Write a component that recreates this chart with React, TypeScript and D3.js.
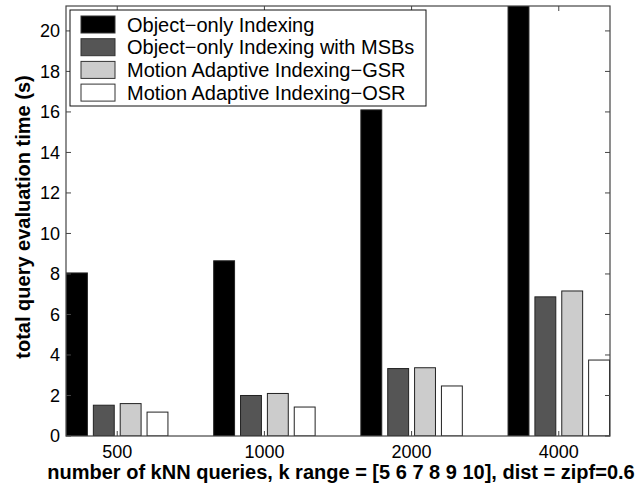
import React from 'react';
import * as d3 from 'd3';

// values (seconds)
const categories = ['500', '1000', '2000', '4000'];
const seriesNames = [
  'Object−only Indexing',
  'Object−only Indexing with MSBs',
  'Motion Adaptive Indexing−GSR',
  'Motion Adaptive Indexing−OSR',
];
const objectOnly = [8.05, 8.65, 16.1, 21.6];
const objectOnlyMSBs = [1.52, 2.0, 3.33, 6.87];
const motionGSR = [1.6, 2.1, 3.37, 7.16];
const motionOSR = [1.18, 1.43, 2.47, 3.75];
const yTicks = [0, 2, 4, 6, 8, 10, 12, 14, 16, 18, 20];

const seriesValues = [objectOnly, objectOnlyMSBs, motionGSR, motionOSR];
const seriesFills = ['#000000', '#555555', '#cccccc', '#ffffff'];

const font = '"Liberation Sans", Arial, Helvetica, sans-serif';

const App = () => {
  const left = 66, right = 610, top = 6, bottom = 436;

  const x0 = d3.scaleBand().domain(categories).range([left, right]).paddingInner(0.304).paddingOuter(0);
  const x1 = d3.scaleBand().domain(seriesNames).range([0, x0.bandwidth()]).paddingInner(0.185);
  const y = d3.scaleLinear().domain([0, 21.23]).range([bottom, top]);

  const tickLen = 5;

  return (
    <svg width={642} height={486} style={{ position: 'absolute', left: 0, top: 0, background: '#fff' }}
      fontFamily={font}>
      <defs>
        <clipPath id="plot-clip">
          <rect x={left} y={top} width={right - left} height={bottom - top} />
        </clipPath>
      </defs>
      <rect x={0} y={0} width={642} height={486} fill="#fff" />

      {/* bars */}
      <g clipPath="url(#plot-clip)">
        {categories.map((c, i) => (
          <g key={c} transform={`translate(${x0(c)},0)`}>
            {seriesNames.map((s, j) => {
              const v = seriesValues[j][i];
              return (
                <rect key={s} x={x1(s)! + 0.5} y={y(v)} width={x1.bandwidth() - 1} height={bottom - y(v)}
                  fill={seriesFills[j]} stroke="#222" strokeWidth={1} />
              );
            })}
          </g>
        ))}
      </g>

      {/* axes box */}
      <rect x={left} y={top} width={right - left} height={bottom - top} fill="none" stroke="#444" strokeWidth={1.2} />

      {/* y ticks, inward on both sides */}
      {yTicks.map(t => (
        <g key={t}>
          <line x1={left} x2={left + tickLen} y1={y(t)} y2={y(t)} stroke="#444" />
          <line x1={right} x2={right - tickLen} y1={y(t)} y2={y(t)} stroke="#444" />
          <text x={left - 6} y={y(t)} dy="0.36em" textAnchor="end" fontSize={18}>{t}</text>
        </g>
      ))}

      {/* x ticks */}
      {categories.map(c => {
        const cx = x0(c)! + x0.bandwidth() / 2;
        return (
          <g key={c}>
            <line x1={cx} x2={cx} y1={bottom} y2={bottom - tickLen} stroke="#444" />
            <line x1={cx} x2={cx} y1={top} y2={top + tickLen} stroke="#444" />
            <text x={cx} y={458} textAnchor="middle" fontSize={18}>{c}</text>
          </g>
        );
      })}

      {/* axis titles */}
      <text x={341} y={479} textAnchor="middle" fontSize={20} fontWeight="bold">
        number of kNN queries, k range = [5 6 7 8 9 10], dist = zipf=0.6
      </text>
      <text transform="translate(30,217) rotate(-90)" textAnchor="middle" fontSize={20} fontWeight="bold">
        total query evaluation time (s)
      </text>

      {/* legend */}
      <g>
        <rect x={70} y={10} width={356} height={96} fill="#fff" stroke="#111" strokeWidth={1} />
        {seriesNames.map((s, j) => {
          const ry = 16 + j * 22.7;
          return (
            <g key={s}>
              <rect x={81} y={ry} width={34} height={17} fill={seriesFills[j]} stroke="#333" strokeWidth={1} />
              <text x={127} y={ry + 8.5} dy="0.36em" fontSize={20}>{s}</text>
            </g>
          );
        })}
      </g>
    </svg>
  );
};

export default App;
